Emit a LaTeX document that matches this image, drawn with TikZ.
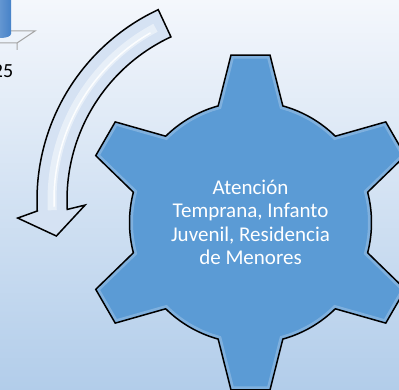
\documentclass[tikz,border=0pt]{standalone}
\usepackage{fontspec}
\setmainfont{Carlito}
\definecolor{gearblue}{RGB}{91,155,213}
\definecolor{bgtop}{RGB}{244,247,252}
\definecolor{bgbottom}{RGB}{178,205,234}
\definecolor{arrowfill}{RGB}{213,226,243}
\definecolor{floorgrey}{RGB}{166,166,166}
\definecolor{barblue}{RGB}{70,130,200}
\newcommand{\gearpath}{(-105.5:121) foreach \a in {-90,-30,30,90,150,210} {
  -- (\a-15.5:121) -- (\a-6.64:168.6) -- (\a+6.64:168.6) -- (\a+15.5:121)
  arc[start angle=\a+15.5,end angle=\a+44.5,radius=121] } -- cycle}
\tikzset{
  gear/.style={fill=gearblue,draw=black,line width=1.5pt,line join=miter},
  gearbevel/.style={draw=white,line width=7pt,opacity=.22,line join=miter},
  bigarrow/.style={fill=arrowfill,draw=black,line width=1.5pt,line join=miter},
  gearlabel/.style={text=white,align=center,font=\fontsize{21}{23.5}\selectfont},
  axislabel/.style={text=black,font=\fontsize{20}{24}\selectfont}
}

\begin{document}
\begin{tikzpicture}[x=1pt,y=-1pt]
\useasboundingbox (0,0) rectangle (399,390);
\clip (0,0) rectangle (399,390);
\shade[top color=bgtop,bottom color=bgbottom] (0,0) rectangle (399,390);
% chart corner
\draw[floorgrey,line width=1pt] (10,31) -- (35,31) -- (17,43) -- (0,43) (17,43) -- (17,50);
\shade[left color=barblue!70!white,right color=barblue] (-10,0) -- (-10,34) arc[start angle=180,end angle=0,x radius=10.5,y radius=4] -- (11,0) -- cycle;
\node[axislabel] (value) at (3,71) {25};
% turning arrow
\coordinate (turn) at (247,200);
\begin{scope}[shift={(turn)}]
\draw[bigarrow] (-115:210) arc[start angle=-115,end angle=-183,radius=210]
  -- (-184.5:230) -- (-190.7:194) -- (-181.8:162) -- (-183:180)
  arc[start angle=-183,end angle=-115,radius=180] -- cycle;
\draw[white,line width=9pt,opacity=.45] (-118:195) arc[start angle=-118,end angle=-183,radius=195];
\draw[white,line width=1.5pt,opacity=.9] (-120:193) arc[start angle=-120,end angle=-182,radius=193];
\end{scope}
% gear
\coordinate (gear) at (250.5,222.5);
\begin{scope}[shift={(gear)}]
\begin{scope}
\clip \gearpath;
\fill[gearblue] \gearpath;
\draw[gearbevel] \gearpath;
\end{scope}
\draw[gear,fill=none] \gearpath;
\end{scope}
\node[gearlabel] (label) at (gear) {Atención\\Temprana, Infanto\\Juvenil, Residencia\\de Menores};
\end{tikzpicture}
\end{document}
